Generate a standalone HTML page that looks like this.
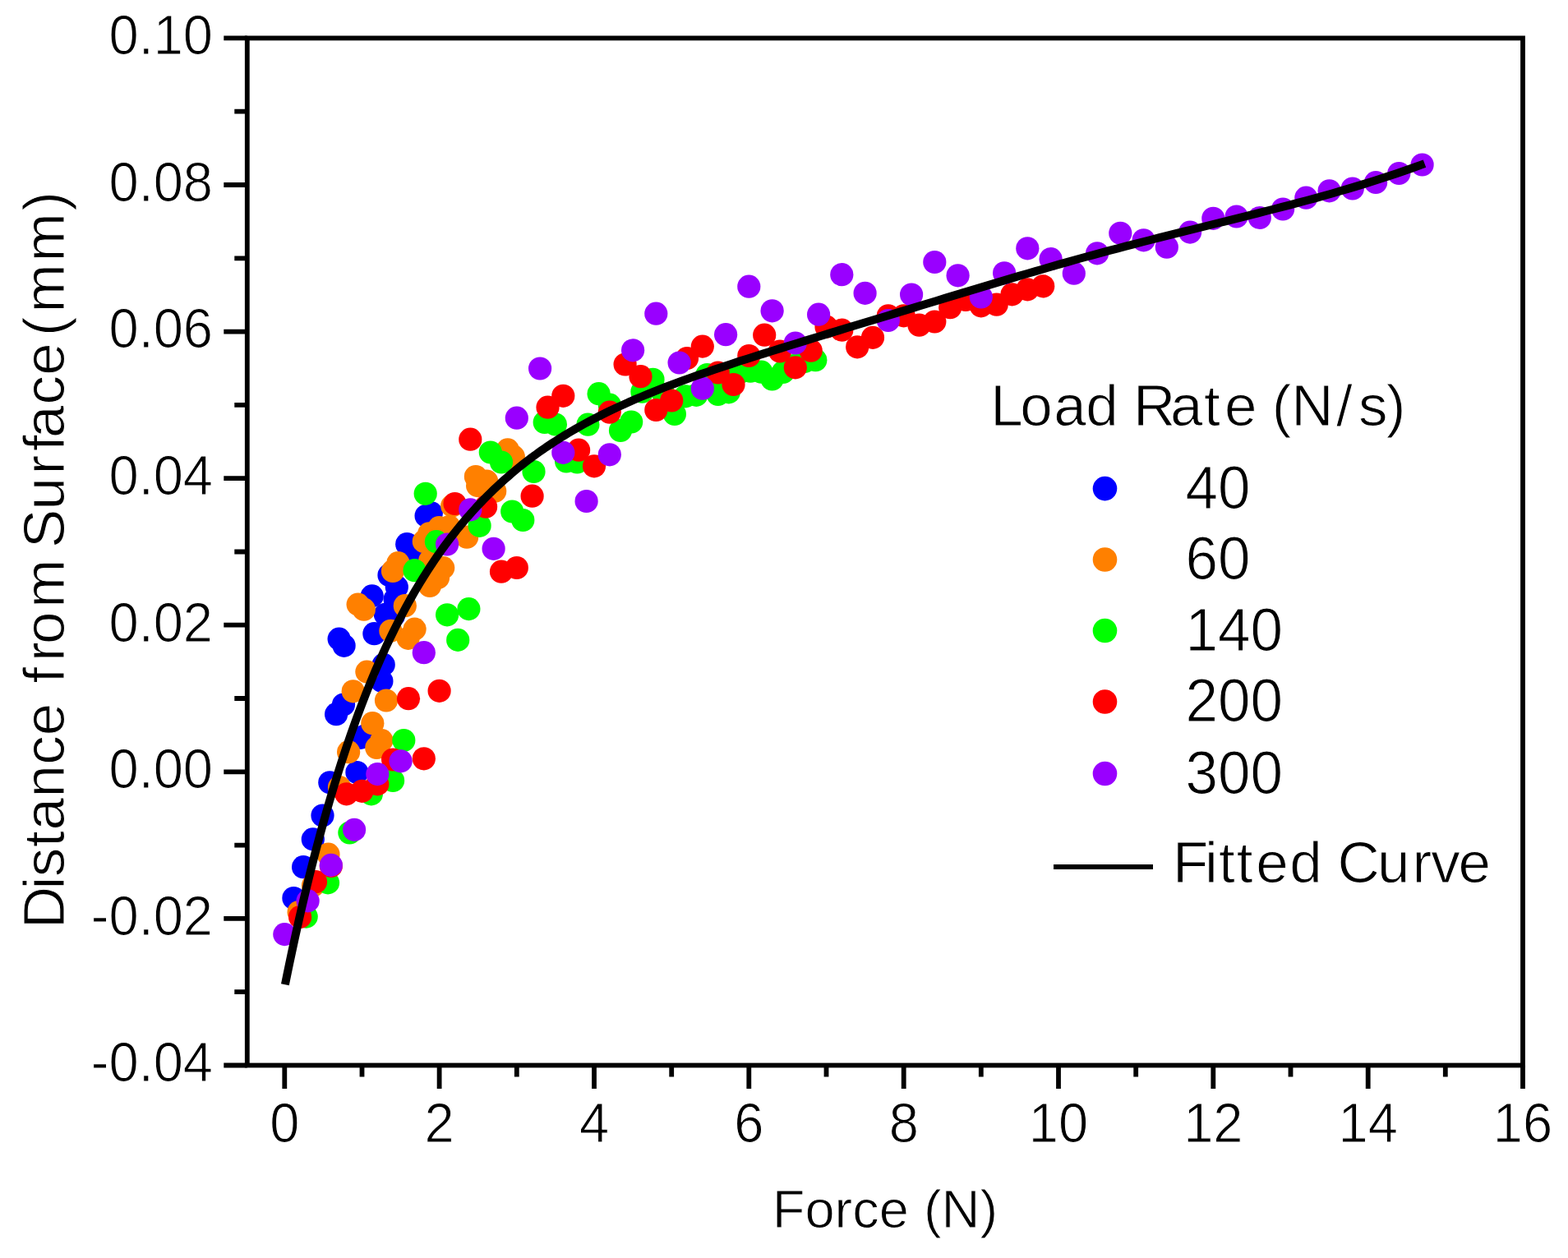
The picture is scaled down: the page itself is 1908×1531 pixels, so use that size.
<!DOCTYPE html>
<html lang="en"><head><meta charset="utf-8"><title>Distance from Surface vs Force</title>
<style>html,body{margin:0;padding:0;background:#fff}body{width:1908px;height:1531px;overflow:hidden}svg{display:block}text{font-family:"Liberation Sans",sans-serif;fill:#000;stroke:#fff;stroke-width:1px;paint-order:fill stroke}</style></head><body>
<svg width="1908" height="1531" viewBox="0 0 1908 1531">
<rect width="1908" height="1531" fill="#fff"/>
<g fill="#0000ff">
<circle cx="357.4" cy="1093.0" r="14.1"/><circle cx="369.1" cy="1055.2" r="14.1"/><circle cx="380.8" cy="1021.4" r="14.1"/><circle cx="392.5" cy="992.5" r="14.1"/><circle cx="401.3" cy="952.3" r="14.1"/><circle cx="434.4" cy="940.0" r="14.1"/><circle cx="438.9" cy="897.8" r="14.1"/><circle cx="409.1" cy="869.2" r="14.1"/><circle cx="418.0" cy="857.5" r="14.1"/><circle cx="412.6" cy="777.6" r="14.1"/><circle cx="418.6" cy="785.8" r="14.1"/><circle cx="455.4" cy="771.2" r="14.1"/><circle cx="478.9" cy="749.4" r="14.1"/><circle cx="468.9" cy="747.8" r="14.1"/><circle cx="480.6" cy="729.4" r="14.1"/><circle cx="452.7" cy="725.4" r="14.1"/><circle cx="466.7" cy="808.9" r="14.1"/><circle cx="464.4" cy="828.9" r="14.1"/><circle cx="445.0" cy="895.0" r="14.1"/><circle cx="473.5" cy="700.0" r="14.1"/><circle cx="482.8" cy="714.4" r="14.1"/><circle cx="495.2" cy="662.2" r="14.1"/><circle cx="502.2" cy="668.9" r="14.1"/><circle cx="518.6" cy="627.8" r="14.1"/><circle cx="524.8" cy="624.4" r="14.1"/>
</g>
<g fill="#ff8000">
<circle cx="363.6" cy="1110.0" r="14.1"/><circle cx="381.0" cy="1077.8" r="14.1"/><circle cx="399.5" cy="1039.7" r="14.1"/><circle cx="413.0" cy="958.0" r="14.1"/><circle cx="424.1" cy="915.2" r="14.1"/><circle cx="453.3" cy="880.2" r="14.1"/><circle cx="464.4" cy="901.1" r="14.1"/><circle cx="458.3" cy="910.0" r="14.1"/><circle cx="470.0" cy="852.5" r="14.1"/><circle cx="429.7" cy="841.3" r="14.1"/><circle cx="446.4" cy="817.6" r="14.1"/><circle cx="435.6" cy="735.6" r="14.1"/><circle cx="442.8" cy="741.7" r="14.1"/><circle cx="492.8" cy="737.2" r="14.1"/><circle cx="475.4" cy="767.8" r="14.1"/><circle cx="504.6" cy="765.6" r="14.1"/><circle cx="496.7" cy="776.8" r="14.1"/><circle cx="484.4" cy="685.2" r="14.1"/><circle cx="478.0" cy="695.0" r="14.1"/><circle cx="523.0" cy="713.0" r="14.1"/><circle cx="533.0" cy="703.0" r="14.1"/><circle cx="539.2" cy="691.1" r="14.1"/><circle cx="523.3" cy="682.2" r="14.1"/><circle cx="515.8" cy="658.9" r="14.1"/><circle cx="522.2" cy="649.4" r="14.1"/><circle cx="534.4" cy="642.2" r="14.1"/><circle cx="546.7" cy="641.1" r="14.1"/><circle cx="550.2" cy="615.6" r="14.1"/><circle cx="568.1" cy="653.7" r="14.1"/><circle cx="578.9" cy="580.0" r="14.1"/><circle cx="581.1" cy="591.1" r="14.1"/><circle cx="592.2" cy="585.6" r="14.1"/><circle cx="602.2" cy="597.8" r="14.1"/><circle cx="617.8" cy="547.4" r="14.1"/><circle cx="624.8" cy="555.6" r="14.1"/><circle cx="623.3" cy="562.2" r="14.1"/>
</g>
<g fill="#00ff00">
<circle cx="372.7" cy="1115.6" r="14.1"/><circle cx="399.0" cy="1074.4" r="14.1"/><circle cx="425.4" cy="1013.5" r="14.1"/><circle cx="451.8" cy="966.4" r="14.1"/><circle cx="478.1" cy="950.0" r="14.1"/><circle cx="491.3" cy="901.0" r="14.1"/><circle cx="504.5" cy="694.2" r="14.1"/><circle cx="517.7" cy="600.8" r="14.1"/><circle cx="530.9" cy="659.2" r="14.1"/><circle cx="544.1" cy="748.3" r="14.1"/><circle cx="557.2" cy="778.9" r="14.1"/><circle cx="570.4" cy="741.1" r="14.1"/><circle cx="583.6" cy="639.8" r="14.1"/><circle cx="596.8" cy="550.5" r="14.1"/><circle cx="610.0" cy="562.5" r="14.1"/><circle cx="623.2" cy="622.5" r="14.1"/><circle cx="636.3" cy="633.0" r="14.1"/><circle cx="649.5" cy="574.0" r="14.1"/><circle cx="662.7" cy="514.0" r="14.1"/><circle cx="675.9" cy="516.5" r="14.1"/><circle cx="689.1" cy="561.5" r="14.1"/><circle cx="702.3" cy="562.5" r="14.1"/><circle cx="715.4" cy="516.7" r="14.1"/><circle cx="728.6" cy="479.2" r="14.1"/><circle cx="741.8" cy="492.7" r="14.1"/><circle cx="755.0" cy="524.0" r="14.1"/><circle cx="768.2" cy="513.5" r="14.1"/><circle cx="781.4" cy="476.7" r="14.1"/><circle cx="794.5" cy="461.8" r="14.1"/><circle cx="807.7" cy="480.0" r="14.1"/><circle cx="820.9" cy="504.0" r="14.1"/><circle cx="834.1" cy="482.3" r="14.1"/><circle cx="847.3" cy="480.8" r="14.1"/><circle cx="860.5" cy="456.0" r="14.1"/><circle cx="873.7" cy="480.0" r="14.1"/><circle cx="886.8" cy="477.3" r="14.1"/><circle cx="900.0" cy="453.3" r="14.1"/><circle cx="913.2" cy="451.7" r="14.1"/><circle cx="926.4" cy="452.7" r="14.1"/><circle cx="939.6" cy="461.5" r="14.1"/><circle cx="952.8" cy="453.0" r="14.1"/><circle cx="965.9" cy="445.0" r="14.1"/><circle cx="979.1" cy="440.0" r="14.1"/><circle cx="992.3" cy="438.2" r="14.1"/>
</g>
<g fill="#ff0000">
<circle cx="365.1" cy="1116.0" r="14.1"/><circle cx="384.0" cy="1073.2" r="14.1"/><circle cx="402.8" cy="1054.0" r="14.1"/><circle cx="421.6" cy="966.4" r="14.1"/><circle cx="440.5" cy="962.8" r="14.1"/><circle cx="459.3" cy="954.4" r="14.1"/><circle cx="478.1" cy="924.5" r="14.1"/><circle cx="497.0" cy="850.2" r="14.1"/><circle cx="515.8" cy="923.3" r="14.1"/><circle cx="534.6" cy="840.8" r="14.1"/><circle cx="553.5" cy="613.0" r="14.1"/><circle cx="572.3" cy="534.7" r="14.1"/><circle cx="591.1" cy="616.7" r="14.1"/><circle cx="610.0" cy="695.7" r="14.1"/><circle cx="628.8" cy="691.0" r="14.1"/><circle cx="647.6" cy="603.7" r="14.1"/><circle cx="666.5" cy="495.7" r="14.1"/><circle cx="685.3" cy="481.8" r="14.1"/><circle cx="704.1" cy="547.7" r="14.1"/><circle cx="723.0" cy="567.3" r="14.1"/><circle cx="741.8" cy="501.7" r="14.1"/><circle cx="760.6" cy="443.5" r="14.1"/><circle cx="779.5" cy="458.2" r="14.1"/><circle cx="798.3" cy="499.0" r="14.1"/><circle cx="817.2" cy="487.5" r="14.1"/><circle cx="836.0" cy="436.0" r="14.1"/><circle cx="854.8" cy="421.6" r="14.1"/><circle cx="873.7" cy="453.5" r="14.1"/><circle cx="892.5" cy="468.0" r="14.1"/><circle cx="911.3" cy="433.0" r="14.1"/><circle cx="930.2" cy="407.7" r="14.1"/><circle cx="949.0" cy="427.5" r="14.1"/><circle cx="967.8" cy="447.3" r="14.1"/><circle cx="986.7" cy="426.7" r="14.1"/><circle cx="1005.5" cy="397.7" r="14.1"/><circle cx="1024.3" cy="401.7" r="14.1"/><circle cx="1043.2" cy="422.3" r="14.1"/><circle cx="1062.0" cy="410.8" r="14.1"/><circle cx="1080.8" cy="384.3" r="14.1"/><circle cx="1099.7" cy="384.3" r="14.1"/><circle cx="1118.5" cy="395.7" r="14.1"/><circle cx="1137.3" cy="391.5" r="14.1"/><circle cx="1156.2" cy="374.2" r="14.1"/><circle cx="1175.0" cy="365.0" r="14.1"/><circle cx="1193.8" cy="372.3" r="14.1"/><circle cx="1212.7" cy="370.7" r="14.1"/><circle cx="1231.5" cy="358.3" r="14.1"/><circle cx="1250.3" cy="352.3" r="14.1"/><circle cx="1269.2" cy="348.3" r="14.1"/>
</g>
<g fill="#9900ff">
<circle cx="346.3" cy="1137.1" r="14.1"/><circle cx="374.6" cy="1096.4" r="14.1"/><circle cx="402.8" cy="1052.9" r="14.1"/><circle cx="431.1" cy="1009.9" r="14.1"/><circle cx="459.3" cy="942.1" r="14.1"/><circle cx="487.6" cy="926.3" r="14.1"/><circle cx="515.8" cy="794.2" r="14.1"/><circle cx="544.1" cy="662.5" r="14.1"/><circle cx="572.3" cy="620.3" r="14.1"/><circle cx="600.6" cy="667.8" r="14.1"/><circle cx="628.8" cy="508.7" r="14.1"/><circle cx="657.1" cy="448.5" r="14.1"/><circle cx="685.3" cy="550.8" r="14.1"/><circle cx="713.6" cy="610.0" r="14.1"/><circle cx="741.8" cy="553.3" r="14.1"/><circle cx="770.1" cy="426.3" r="14.1"/><circle cx="798.3" cy="381.7" r="14.1"/><circle cx="826.6" cy="441.5" r="14.1"/><circle cx="854.8" cy="472.7" r="14.1"/><circle cx="883.1" cy="407.2" r="14.1"/><circle cx="911.3" cy="348.7" r="14.1"/><circle cx="939.6" cy="378.3" r="14.1"/><circle cx="967.8" cy="417.5" r="14.1"/><circle cx="996.1" cy="382.7" r="14.1"/><circle cx="1024.3" cy="334.2" r="14.1"/><circle cx="1052.6" cy="356.8" r="14.1"/><circle cx="1080.8" cy="390.0" r="14.1"/><circle cx="1109.1" cy="358.5" r="14.1"/><circle cx="1137.3" cy="319.0" r="14.1"/><circle cx="1165.6" cy="335.3" r="14.1"/><circle cx="1193.8" cy="361.5" r="14.1"/><circle cx="1222.1" cy="332.3" r="14.1"/><circle cx="1250.3" cy="302.3" r="14.1"/><circle cx="1278.6" cy="315.2" r="14.1"/><circle cx="1306.8" cy="332.7" r="14.1"/><circle cx="1335.1" cy="308.3" r="14.1"/><circle cx="1363.3" cy="283.8" r="14.1"/><circle cx="1391.6" cy="292.3" r="14.1"/><circle cx="1419.8" cy="300.7" r="14.1"/><circle cx="1448.1" cy="282.6" r="14.1"/><circle cx="1476.3" cy="265.8" r="14.1"/><circle cx="1504.6" cy="263.5" r="14.1"/><circle cx="1532.8" cy="265.0" r="14.1"/><circle cx="1561.1" cy="254.5" r="14.1"/><circle cx="1589.3" cy="240.7" r="14.1"/><circle cx="1617.6" cy="232.3" r="14.1"/><circle cx="1645.8" cy="229.5" r="14.1"/><circle cx="1674.1" cy="222.0" r="14.1"/><circle cx="1702.3" cy="211.0" r="14.1"/><circle cx="1730.6" cy="200.5" r="14.1"/>
</g>
<path d="M346.9 1198.3 L349.2 1187.0 L352.2 1172.5 L355.2 1158.4 L358.2 1144.5 L361.2 1130.9 L364.2 1117.6 L367.2 1104.6 L370.2 1091.8 L373.2 1079.3 L376.2 1067.0 L379.2 1055.0 L382.2 1043.3 L385.2 1031.8 L388.2 1020.5 L391.2 1009.4 L394.2 998.6 L397.2 988.0 L400.2 977.6 L403.2 967.4 L406.2 957.4 L409.2 947.6 L412.2 938.0 L415.2 928.6 L418.2 919.4 L421.2 910.4 L424.2 901.6 L427.2 892.9 L430.2 884.5 L433.2 876.1 L436.2 868.0 L439.2 860.0 L442.2 852.2 L445.2 844.5 L448.2 837.0 L451.2 829.6 L454.2 822.4 L457.2 815.3 L460.2 808.4 L463.2 801.5 L466.2 794.9 L469.2 788.3 L472.2 781.9 L475.2 775.6 L478.2 769.5 L481.2 763.4 L484.2 757.5 L487.2 751.7 L490.2 746.0 L493.2 740.4 L496.2 734.9 L499.2 729.5 L502.2 724.2 L505.2 719.0 L508.2 714.0 L511.2 709.0 L514.2 704.1 L517.2 699.3 L520.2 694.6 L523.2 690.0 L526.2 685.4 L529.2 681.0 L532.2 676.6 L535.2 672.4 L538.2 668.2 L541.2 664.0 L544.2 660.0 L547.2 656.0 L550.2 652.1 L553.2 648.3 L556.2 644.5 L559.2 640.8 L562.2 637.2 L565.2 633.6 L568.2 630.1 L571.2 626.7 L574.2 623.3 L577.2 620.0 L580.2 616.7 L583.2 613.5 L586.2 610.4 L589.2 607.3 L592.2 604.2 L595.2 601.2 L598.2 598.3 L601.2 595.4 L604.2 592.6 L607.2 589.8 L610.2 587.0 L613.2 584.3 L616.2 581.7 L619.2 579.1 L622.2 576.5 L625.2 574.0 L628.2 571.5 L631.2 569.0 L634.2 566.6 L637.2 564.3 L640.2 561.9 L643.2 559.6 L646.2 557.4 L649.2 555.1 L652.2 553.0 L655.2 550.8 L658.2 548.7 L661.2 546.6 L664.2 544.5 L667.2 542.5 L670.2 540.5 L673.2 538.5 L676.2 536.6 L679.2 534.7 L682.2 532.8 L685.2 530.9 L688.2 529.1 L691.2 527.3 L694.2 525.5 L697.2 523.7 L700.0 522.1 L710.0 516.5 L720.0 511.1 L730.0 506.0 L740.0 501.0 L750.0 496.2 L760.0 491.7 L770.0 487.2 L780.0 483.0 L790.0 478.8 L800.0 474.8 L810.0 470.9 L820.0 467.2 L830.0 463.5 L840.0 459.9 L850.0 456.3 L860.0 452.9 L870.0 449.5 L880.0 446.2 L890.0 442.9 L900.0 439.6 L910.0 436.4 L920.0 433.2 L930.0 430.1 L940.0 427.0 L950.0 423.9 L960.0 420.8 L970.0 417.7 L980.0 414.6 L990.0 411.5 L1000.0 408.5 L1010.0 405.4 L1020.0 402.4 L1030.0 399.3 L1040.0 396.3 L1050.0 393.3 L1060.0 390.2 L1070.0 387.2 L1080.0 384.2 L1090.0 381.1 L1100.0 378.1 L1110.0 375.1 L1120.0 372.0 L1130.0 369.0 L1140.0 366.0 L1150.0 362.9 L1160.0 359.9 L1170.0 356.9 L1180.0 353.9 L1190.0 350.9 L1200.0 347.9 L1210.0 344.9 L1220.0 341.9 L1230.0 338.9 L1240.0 335.9 L1250.0 333.0 L1260.0 330.1 L1270.0 327.2 L1280.0 324.3 L1290.0 321.4 L1300.0 318.6 L1310.0 315.8 L1320.0 313.0 L1330.0 310.3 L1340.0 307.6 L1350.0 304.9 L1360.0 302.3 L1370.0 299.6 L1380.0 297.1 L1390.0 294.5 L1400.0 292.0 L1410.0 289.4 L1420.0 286.9 L1430.0 284.4 L1440.0 281.9 L1450.0 279.5 L1460.0 277.0 L1470.0 274.5 L1480.0 272.0 L1490.0 269.6 L1500.0 267.1 L1510.0 264.6 L1520.0 262.1 L1530.0 259.6 L1540.0 257.0 L1550.0 254.5 L1560.0 251.9 L1570.0 249.3 L1580.0 246.7 L1590.0 244.0 L1600.0 241.3 L1610.0 238.5 L1620.0 235.7 L1630.0 232.8 L1640.0 229.9 L1650.0 226.9 L1660.0 223.9 L1670.0 220.8 L1680.0 217.6 L1690.0 214.3 L1700.0 211.0 L1710.0 207.5 L1720.0 204.0 L1730.0 200.4 L1733.5 199.1" fill="none" stroke="#000" stroke-width="10" stroke-linejoin="round" stroke-linecap="butt"/>
<g stroke="#000" stroke-width="5.8" fill="none">
<rect x="300.8" y="46.4" width="1552.2" height="1250.1"/>
<path d="M346.3 1296.5 V1325.0M440.5 1296.5 V1310.5M534.6 1296.5 V1325.0M628.8 1296.5 V1310.5M723.0 1296.5 V1325.0M817.2 1296.5 V1310.5M911.3 1296.5 V1325.0M1005.5 1296.5 V1310.5M1099.7 1296.5 V1325.0M1193.8 1296.5 V1310.5M1288.0 1296.5 V1325.0M1382.2 1296.5 V1310.5M1476.3 1296.5 V1325.0M1570.5 1296.5 V1310.5M1664.7 1296.5 V1325.0M1758.8 1296.5 V1310.5M1853.0 1296.5 V1325.0M300.8 1296.5 H272.3M300.8 1207.2 H285.3M300.8 1117.9 H272.3M300.8 1028.6 H285.3M300.8 939.3 H272.3M300.8 850.0 H285.3M300.8 760.7 H272.3M300.8 671.5 H285.3M300.8 582.2 H272.3M300.8 492.9 H285.3M300.8 403.6 H272.3M300.8 314.3 H285.3M300.8 225.0 H272.3M300.8 135.7 H285.3M300.8 46.4 H272.3"/>
</g>
<g font-size="65" text-anchor="middle">
<text transform="translate(346.3 1390.3) scale(1 1.06)">0</text>
<text transform="translate(534.6 1390.3) scale(1 1.06)">2</text>
<text transform="translate(723.0 1390.3) scale(1 1.06)">4</text>
<text transform="translate(911.3 1390.3) scale(1 1.06)">6</text>
<text transform="translate(1099.7 1390.3) scale(1 1.06)">8</text>
<text transform="translate(1288.0 1390.3) scale(1 1.06)">10</text>
<text transform="translate(1476.3 1390.3) scale(1 1.06)">12</text>
<text transform="translate(1664.7 1390.3) scale(1 1.06)">14</text>
<text transform="translate(1853.0 1390.3) scale(1 1.06)">16</text>
</g>
<g font-size="65" text-anchor="end">
<text transform="translate(259 1316.3) scale(1 1.06)">-0.04</text>
<text transform="translate(259 1137.7) scale(1 1.06)">-0.02</text>
<text transform="translate(259 959.1) scale(1 1.06)">0.00</text>
<text transform="translate(259 780.5) scale(1 1.06)">0.02</text>
<text transform="translate(259 602.0) scale(1 1.06)">0.04</text>
<text transform="translate(259 423.4) scale(1 1.06)">0.06</text>
<text transform="translate(259 244.8) scale(1 1.06)">0.08</text>
<text transform="translate(259 66.2) scale(1 1.06)">0.10</text>
</g>
<text x="1077" y="1494.3" font-size="65" text-anchor="middle">Force (N)</text>
<text transform="translate(77.5 1125.5) rotate(-90)" font-size="71" x="-4.6 43.0 58.2 94.4 115.1 155.0 194.7 230.2 269.7 294.1 320.4 341.5 385.8 444.9 458.6 504.9 548.1 576.5 592.6 633.0 668.7 708.2 716.6 745.1 807.0 868.7">Distance from Surface (mm)</text>
<text x="1205.3 1241.2 1282.2 1321.2 1360.7 1379.0 1424.0 1464.9 1489.9 1529.4 1547.8 1571.3 1626.1 1653.0 1686.8" y="518" font-size="71">Load Rate (N/s)</text>
<circle cx="1344.5" cy="594.6" r="14.8" fill="#0000ff"/>
<text transform="translate(1442.5 618.9) scale(1 1.04)" font-size="71">40</text>
<circle cx="1344.5" cy="681.0" r="14.8" fill="#ff8000"/>
<text transform="translate(1442.5 705.3) scale(1 1.04)" font-size="71">60</text>
<circle cx="1344.5" cy="767.5" r="14.8" fill="#00ff00"/>
<text transform="translate(1442.5 791.8) scale(1 1.04)" font-size="71">140</text>
<circle cx="1344.5" cy="854.0" r="14.8" fill="#ff0000"/>
<text transform="translate(1442.5 878.3) scale(1 1.04)" font-size="71">200</text>
<circle cx="1344.5" cy="941.5" r="14.8" fill="#9900ff"/>
<text transform="translate(1442.5 965.8) scale(1 1.04)" font-size="71">300</text>
<path d="M1282 1055 H1403" stroke="#000" stroke-width="5.8"/>
<text x="1427.0 1466.1 1482.9 1504.7 1528.2 1569.2 1608.7 1627.4 1676.1 1718.5 1741.2 1774.6" y="1074" font-size="71">Fitted Curve</text>
</svg></body></html>
